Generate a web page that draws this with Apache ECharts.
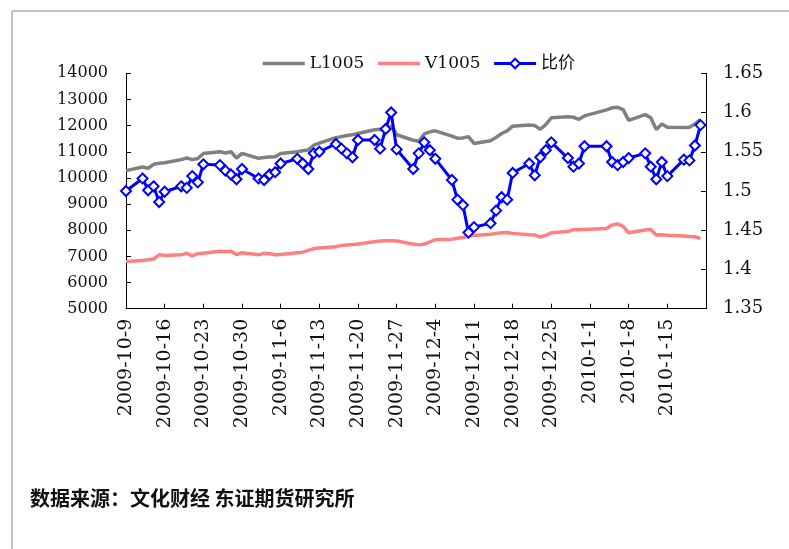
<!DOCTYPE html>
<html>
<head>
<meta charset="utf-8">
<script src="https://cdn.jsdelivr.net/npm/echarts@6/dist/echarts.min.js"></script>
<style>
html,body{margin:0;padding:0;background:#fff;}
#chart{width:789px;height:549px;}
</style>
</head>
<body>
<div id="chart"></div>
<script>
// Trading days (Excel date axis: calendar-day spacing)
const dates = [
'2009-10-9',
'2009-10-12','2009-10-13','2009-10-14','2009-10-15','2009-10-16',
'2009-10-19','2009-10-20','2009-10-21','2009-10-22','2009-10-23',
'2009-10-26','2009-10-27','2009-10-28','2009-10-29','2009-10-30',
'2009-11-2','2009-11-3','2009-11-4','2009-11-5','2009-11-6',
'2009-11-9','2009-11-10','2009-11-11','2009-11-12','2009-11-13',
'2009-11-16','2009-11-17','2009-11-18','2009-11-19','2009-11-20',
'2009-11-23','2009-11-24','2009-11-25','2009-11-26','2009-11-27',
'2009-11-30','2009-12-1','2009-12-2','2009-12-3','2009-12-4',
'2009-12-7','2009-12-8','2009-12-9','2009-12-10','2009-12-11',
'2009-12-14','2009-12-15','2009-12-16','2009-12-17','2009-12-18',
'2009-12-21','2009-12-22','2009-12-23','2009-12-24','2009-12-25',
'2009-12-28','2009-12-29','2009-12-30','2009-12-31',
'2010-1-4','2010-1-5','2010-1-6','2010-1-7','2010-1-8',
'2010-1-11','2010-1-12','2010-1-13','2010-1-14','2010-1-15',
'2010-1-18','2010-1-19','2010-1-20','2010-1-21'
];
const l1005 = [
10280,
10420,10370,10520,10560,10580,
10700,10760,10700,10740,10930,
11000,10950,11000,10760,10940,
10750,10780,10800,10810,10930,
11000,11040,11070,11250,11330,
11540,11580,11620,11650,11700,
11840,11860,11770,11990,11650,
11440,11400,11680,11760,11800,
11600,11520,11530,11580,11320,
11420,11550,11700,11800,11980,
12020,12000,11860,12040,12300,
12340,12320,12240,12370,
12600,12680,12700,12610,12200,
12420,12300,11850,12060,11940,
11930,11940,12060,12240
];
const v1005 = [
6800,
6840,6870,6900,7060,7030,
7060,7120,7020,7110,7120,
7200,7180,7200,7070,7140,
7060,7120,7100,7060,7070,
7140,7160,7230,7300,7320,
7370,7420,7440,7450,7470,
7560,7590,7600,7600,7590,
7470,7440,7470,7550,7640,
7660,7690,7720,7780,7800,
7850,7880,7900,7910,7880,
7830,7820,7740,7800,7900,
7950,8020,8020,8030,
8070,8200,8240,8150,7900,
8010,8030,7820,7830,7810,
7780,7760,7750,7690
];
const ratio = [
1.500,
1.516,1.501,1.506,1.486,1.499,
1.506,1.504,1.519,1.511,1.534,
1.533,1.526,1.521,1.515,1.528,
1.516,1.514,1.521,1.524,1.535,
1.541,1.535,1.528,1.548,1.550,
1.560,1.554,1.548,1.543,1.565,
1.565,1.554,1.579,1.600,1.553,
1.528,1.548,1.562,1.552,1.541,
1.514,1.489,1.482,1.447,1.454,
1.459,1.475,1.492,1.489,1.523,
1.535,1.520,1.543,1.552,1.562,
1.542,1.531,1.535,1.557,
1.557,1.537,1.533,1.537,1.542,
1.548,1.531,1.515,1.537,1.519,
1.540,1.539,1.558,1.584
];
const seriesNames = ['L1005','V1005','比价'];
const axisStart = '2009-10-9';
const axisEnd = '2010-1-22';
const leftTicks = {min:5000, max:14000, step:1000};
const rightTicks = {min:1.35, max:1.65, step:0.05};
const sourceText = '数据来源：文化财经 东证期货研究所';

const DAY = 86400000;
const parse = s => { const p = s.split('-').map(Number); return Date.UTC(p[0], p[1]-1, p[2]) / DAY; };
const t0 = parse(axisStart), t1 = parse(axisEnd);
const span = t1 - t0;
const fmtDate = off => { const d = new Date((t0 + off) * DAY); return d.getUTCFullYear() + '-' + (d.getUTCMonth()+1) + '-' + d.getUTCDate(); };
const xs = dates.map(d => parse(d) - t0);
const pts = arr => arr.map((v,i) => [xs[i], v]);

const serif = 'DejaVu Serif, Noto Sans CJK SC';
const chart = echarts.init(document.getElementById('chart'), null, {renderer:'canvas'});
chart.setOption({
  animation: false,
  backgroundColor: '#ffffff',
  grid: {left:126, right:83, top:73.3, bottom:240.3, containLabel:false},
  legend: {
    left: 256, top: 50,
    itemWidth: 42, itemHeight: 12, itemGap: 12,
    textStyle: {fontFamily: serif, fontSize: 17, color: '#111'},
    data: [
      {name: seriesNames[0], itemStyle:{opacity:0}, lineStyle:{width:3.5}},
      {name: seriesNames[1], itemStyle:{opacity:0}, lineStyle:{width:3.5}},
      {name: seriesNames[2], lineStyle:{width:3}}
    ]
  },
  xAxis: {
    type: 'value', min: 0, max: span, interval: 7,
    axisLine: {show:true, lineStyle:{color:'#000', width:1}},
    axisTick: {show:true, inside:true, length:5, lineStyle:{color:'#000'}},
    splitLine: {show:false},
    axisLabel: {
      rotate: 90, margin: 10, color:'#111',
      fontFamily: serif, fontSize: 19,
      showMaxLabel: false,
      formatter: v => (v >= span ? '' : fmtDate(v))
    }
  },
  yAxis: [
    {
      type:'value', position:'left', min:leftTicks.min, max:leftTicks.max, interval:leftTicks.step,
      axisLine:{show:true, lineStyle:{color:'#000', width:1}},
      axisTick:{show:true, inside:true, length:5, lineStyle:{color:'#000'}},
      splitLine:{show:false},
      axisLabel:{margin:18, color:'#111', fontFamily:serif, fontSize:16,
        formatter: v => String(Math.round(v))}
    },
    {
      type:'value', position:'right', min:rightTicks.min, max:rightTicks.max, interval:rightTicks.step,
      axisLine:{show:true, lineStyle:{color:'#000', width:1}},
      axisTick:{show:true, inside:true, length:5, lineStyle:{color:'#000'}},
      splitLine:{show:false},
      axisLabel:{margin:17, color:'#111', fontFamily:serif, fontSize:18,
        formatter: v => String(parseFloat(v.toFixed(2)))}
    }
  ],
  series: [
    {name:seriesNames[0], type:'line', yAxisIndex:0, data:pts(l1005), symbol:'none',
     lineStyle:{color:'#808080', width:3.5}, itemStyle:{color:'#808080'}, z:2},
    {name:seriesNames[1], type:'line', yAxisIndex:0, data:pts(v1005), symbol:'none',
     lineStyle:{color:'#FF8080', width:3.5}, itemStyle:{color:'#FF8080'}, z:2},
    {name:seriesNames[2], type:'line', yAxisIndex:1, data:pts(ratio), symbol:'diamond', symbolSize:10,
     showAllSymbol:true,
     lineStyle:{color:'#0000FF', width:3}, itemStyle:{color:'#ffffff', borderColor:'#0000FF', borderWidth:2}, z:3}
  ],
  graphic: [
    {type:'line', shape:{x1:12, y1:11, x2:789, y2:11}, style:{stroke:'#c0c0c0', lineWidth:2}},
    {type:'line', shape:{x1:12, y1:11, x2:12, y2:549}, style:{stroke:'#c0c0c0', lineWidth:2}},
    {type:'text', left:30, top:488, style:{text:sourceText, fontFamily:'Noto Sans CJK SC', fontSize:20, fontWeight:'bold', fill:'#111'}}
  ]
});
</script>
</body>
</html>
